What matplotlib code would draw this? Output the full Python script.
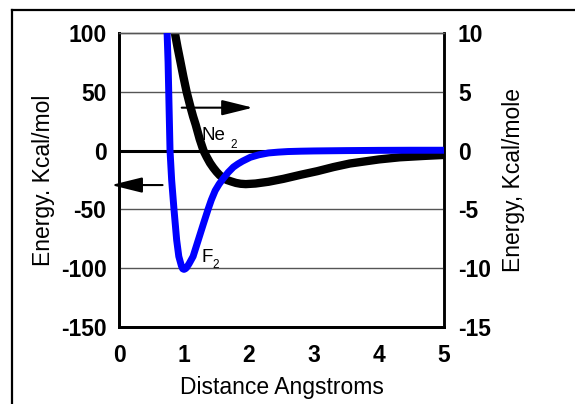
import matplotlib
matplotlib.use("Agg")
import matplotlib.pyplot as plt
from matplotlib.lines import Line2D

plt.rcParams['font.family'] = ['Liberation Sans', 'DejaVu Sans']

# F2 curve (left axis, kcal/mol)
f2_x = [0.74, 0.755, 0.765, 0.775, 0.785, 0.81, 0.846, 0.887, 0.92, 0.96, 0.98,
        1.0, 1.02, 1.04, 1.08, 1.14, 1.22, 1.30, 1.37, 1.42, 1.48, 1.54, 1.60,
        1.68, 1.76, 1.83, 1.90, 2.02, 2.15, 2.30, 2.45, 2.60, 2.80, 3.00, 3.50,
        4.00, 4.50, 5.00]
f2_y = [100, 75, 50, 25, 0, -25, -50, -76, -90, -98, -100.5,
        -101, -100.5, -99.5, -96, -90, -76, -62, -50, -42, -34, -28.5, -24,
        -18.5, -14, -11.3, -9, -5.7, -3.6, -2.0, -1.3, -0.8, -0.5, -0.3, 0.0,
        0.2, 0.3, 0.3]

# Ne2 curve (right axis, kcal/mole)
ne_x = [0.86, 0.90, 0.94, 0.99, 1.04, 1.10, 1.14, 1.18, 1.24, 1.30, 1.35, 1.40,
        1.45, 1.50, 1.55, 1.60, 1.66, 1.73, 1.80, 1.87, 1.95, 2.10, 2.30, 2.53,
        2.80, 3.05, 3.30, 3.55, 4.00, 4.32, 4.70, 5.00]
ne_y = [10, 8.8, 7.7, 6.3, 5.0, 3.7, 2.9, 2.2, 1.0, 0.0, -0.55, -1.05,
        -1.45, -1.8, -2.1, -2.3, -2.5, -2.63, -2.75, -2.82, -2.85, -2.8, -2.65, -2.4,
        -2.05, -1.75, -1.4, -1.1, -0.75, -0.57, -0.45, -0.37]

x_ticks = [0, 1, 2, 3, 4, 5]
left_ticks = [-150, -100, -50, 0, 50, 100]
right_ticks = [-15, -10, -5, 0, 5, 10]

W, H = 575, 404
fig = plt.figure(figsize=(W / 100, H / 100), dpi=100)
ax = fig.add_axes([119 / W, 77 / H, 325 / W, 294 / H])
ax2 = ax.twinx()

ax.set_xlim(0, 5)
ax.set_ylim(-150, 100)
ax2.set_ylim(-15, 10)

ax.set_xticks(x_ticks)
ax.set_yticks(left_ticks)
ax2.set_yticks(right_ticks)

tick_font = dict(fontsize=16.5, fontweight='bold')
ax.set_xticklabels([str(v) for v in x_ticks], **tick_font)
ax.set_yticklabels([str(v) for v in left_ticks], **tick_font)
ax2.set_yticklabels([str(v) for v in right_ticks], **tick_font)

ax.tick_params(axis='x', length=0, pad=12)
ax.tick_params(axis='y', length=0, pad=9)
ax2.tick_params(axis='y', length=0, pad=10)

# grid lines
for v in [50, -50, -100]:
    ax.axhline(v, color='#555555', lw=1.0, zorder=1)
ax.axhline(0, color='black', lw=2.2, zorder=1.5)

# spines
for a in (ax, ax2):
    a.spines['top'].set_color('#555555')
    a.spines['top'].set_linewidth(1.0)
    a.spines['left'].set_linewidth(2.0)
    a.spines['bottom'].set_linewidth(2.0)
    a.spines['right'].set_linewidth(1.8)

ax.set_zorder(ax2.get_zorder() + 1)
ax.patch.set_visible(False)

ax.plot(ne_x, ne_y, color='black', lw=6, transform=ax2.transData,
        solid_capstyle='butt', solid_joinstyle='round', zorder=2)
ax.plot(f2_x, f2_y, color='#0000ff', lw=5, solid_capstyle='round',
        solid_joinstyle='round', zorder=3)

ax.set_xlabel('Distance Angstroms', fontsize=16.5, labelpad=7)
ax.set_ylabel('Energy. Kcal/mol', fontsize=16.5, labelpad=4)
ax2.set_ylabel('Energy, Kcal/mole', fontsize=16.5, labelpad=8)

# labels
ax.text(1.27, 9, 'Ne', fontsize=13.5, ha='left', va='baseline', zorder=4)
ax.text(1.71, 2.2, '2', fontsize=8.5, ha='left', va='baseline', zorder=4)
ax.text(1.27, -94.7, 'F', fontsize=13.5, ha='left', va='baseline', zorder=4)
ax.text(1.43, -99.8, '2', fontsize=8.5, ha='left', va='baseline', zorder=4)

# arrows
arrow_style = dict(arrowstyle='-|>,head_length=1.9,head_width=0.47',
                   lw=1.5, color='black', mutation_scale=10,
                   shrinkA=0, shrinkB=0)
ax.annotate('', xy=(2.06, 36.5), xytext=(0.965, 36.5),
            arrowprops=arrow_style, annotation_clip=False)
ax.annotate('', xy=(-0.12, -29.3), xytext=(0.67, -29.3),
            arrowprops=arrow_style, annotation_clip=False)

# outer border
fig.add_artist(Line2D([12 / W, 12 / W], [0, 1 - 10 / H],
                      transform=fig.transFigure, color='black', lw=1.6))
fig.add_artist(Line2D([12 / W, 1], [1 - 10 / H, 1 - 10 / H],
                      transform=fig.transFigure, color='black', lw=1.6))

fig.savefig('out.png', dpi=100)
